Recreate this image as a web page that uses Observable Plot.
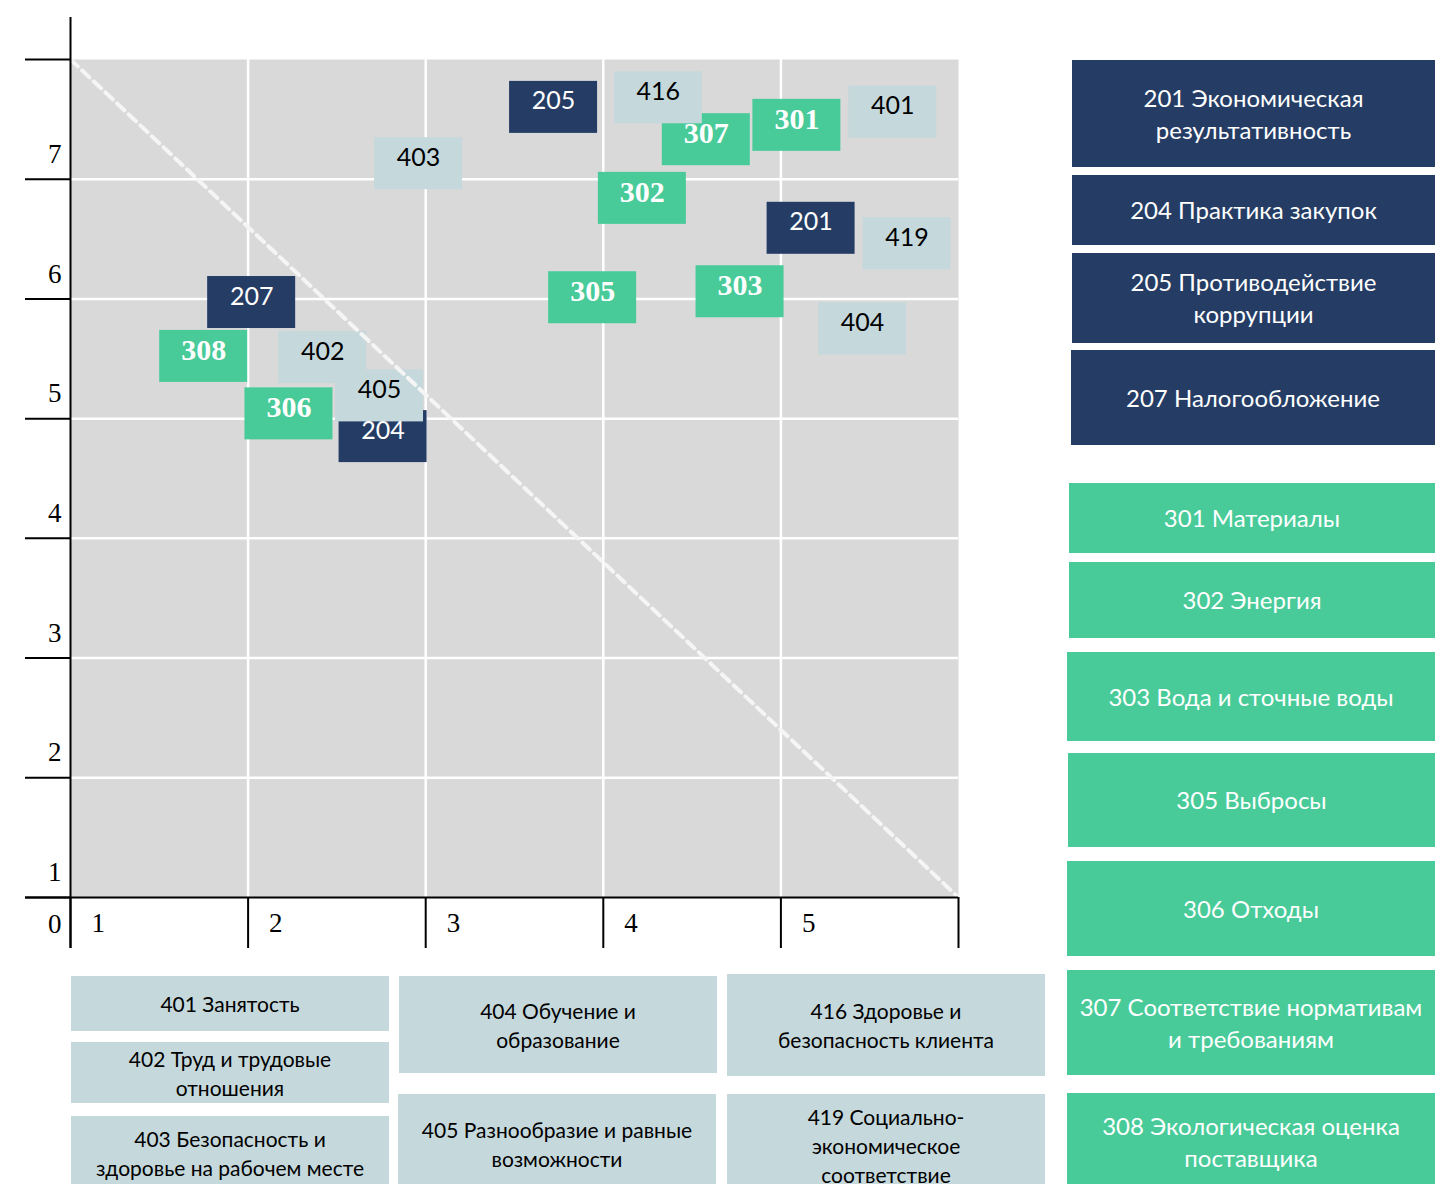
<!DOCTYPE html>
<html>
<head>
<meta charset="utf-8">
<script src="https://cdn.jsdelivr.net/npm/d3@7"></script>
<script src="https://cdn.jsdelivr.net/npm/@observablehq/plot@0.6"></script>
<style>
  html, body { margin: 0; padding: 0; background: #fff; }
  body { width: 1435px; height: 1184px; overflow: hidden; position: relative; }
  #chart { position: absolute; left: 0; top: 0; }
  .lg { position: absolute; display: flex; align-items: center; justify-content: center; text-align: center; box-sizing: border-box; font-family: Lato, "Open Sans", sans-serif; }
  .lg.navy { background: #253d65; color: #fff; font-size: 24px; line-height: 32px; }
  .lg.green { background: #48cb99; color: #fff; font-size: 24px; line-height: 32px; }
  .lg.light { background: #c5d8db; color: #000; font-size: 21px; line-height: 29px; }
</style>
</head>
<body>
<div id="chart"></div>
<script>
// ---- data ----
const codes = ["201","204","205","207","301","302","303","305","306","307","308","401","402","403","404","405","416","419"];
const xVals = [5.17, 2.76, 3.72, 2.02, 5.09, 4.22, 4.77, 3.94, 2.23, 4.58, 1.75, 5.63, 2.42, 2.96, 5.46, 2.74, 4.31, 5.71];
const yVals = [6.59, 4.85, 7.60, 5.97, 7.45, 6.84, 6.06, 6.01, 5.04, 7.33, 5.52, 7.56, 5.51, 7.13, 5.75, 5.19, 7.68, 6.46];

const xTicks = [1, 2, 3, 4, 5, 6];
const xTickLabels = ["1", "2", "3", "4", "5"];
const yTicks = [1, 2, 3, 4, 5, 6, 7, 8];
const yTickLabels = ["1", "2", "3", "4", "5", "6", "7"];
const originLabel = "0";
const diagonal = [[1, 8], [6, 1]];

const navyLabels = [
  ["201 Экономическая", "результативность"],
  ["204 Практика закупок"],
  ["205 Противодействие", "коррупции"],
  ["207 Налогообложение"]
];
const greenLabels = [
  ["301 Материалы"],
  ["302 Энергия"],
  ["303 Вода и сточные воды"],
  ["305 Выбросы"],
  ["306 Отходы"],
  ["307 Соответствие нормативам", "и требованиям"],
  ["308 Экологическая оценка", "поставщика"]
];
const lightLabels = [
  ["401 Занятость"],
  ["402 Труд и трудовые", "отношения"],
  ["403 Безопасность и", "здоровье на рабочем месте"],
  ["404 Обучение и", "образование"],
  ["405 Разнообразие и равные", "возможности"],
  ["416 Здоровье и", "безопасность клиента"],
  ["419 Социально-", "экономическое", "соответствие"]
];

// ---- colors ----
const NAVY = "#253d65", GREEN = "#48cb99", LIGHT = "#c5d8db", BG = "#d9d9d9";

const pts = codes.map((c, i) => ({code: c, x: xVals[i], y: yVals[i], g: c[0]}));
const grp = g => pts.filter(d => d.g === g);

const SERIF = "'Liberation Serif', 'DejaVu Serif', serif";
const SANS = "Lato, 'Open Sans', sans-serif";

function boxes(data, fill) {
  return Plot.rect(data, {x1: "x", x2: "x", y1: "y", y2: "y",
    insetLeft: -44, insetRight: -44, insetTop: -26, insetBottom: -26, fill});
}

const chart = Plot.plot({
  width: 960, height: 950,
  marginLeft: 70, marginRight: 2, marginTop: 59, marginBottom: 53,
  x: {domain: [1, 6]},
  y: {domain: [1, 8]},
  style: {background: "transparent", overflow: "visible"},
  marks: [
    Plot.frame({fill: BG, stroke: "none"}),
    Plot.gridX(xTicks.slice(1, -1), {stroke: "white", strokeOpacity: 1, strokeWidth: 2.5}),
    Plot.gridY(yTicks.slice(1, -1), {stroke: "white", strokeOpacity: 1, strokeWidth: 2.5}),
    boxes(grp("2"), NAVY),
    boxes(grp("3"), GREEN),
    boxes(grp("4"), LIGHT),
    Plot.line(diagonal, {x: d => d[0], y: d => d[1], stroke: "#f5f5f5", strokeOpacity: 1, strokeWidth: 4, strokeDasharray: "10,6"}),
    Plot.text(grp("2"), {x: "x", y: "y", text: "code", fill: "white", fontFamily: SANS, fontSize: 25, dy: -6}),
    Plot.text(grp("3"), {x: "x", y: "y", text: "code", fill: "white", fontFamily: SERIF, fontWeight: "bold", fontSize: 30, dy: -6}),
    Plot.text(grp("4"), {x: "x", y: "y", text: "code", fill: "black", fontFamily: SANS, fontSize: 25, dy: -6}),
    Plot.ruleX([xTicks[0]], {stroke: "black", strokeWidth: 2, insetTop: -42, insetBottom: -51}),
    Plot.ruleY([yTicks[0]], {stroke: "black", strokeWidth: 2, insetLeft: -45}),
    Plot.axisY(yTicks, {tickSize: 45, stroke: "black", strokeWidth: 2, fill: "none"}),
    Plot.axisX(xTicks, {tickSize: 51, stroke: "black", strokeWidth: 2, fill: "none"}),
    Plot.text(yTickLabels, {x: xTicks[0], y: (d, i) => yTicks[i], text: d => d, textAnchor: "end", dx: -9, dy: -25, fontFamily: SERIF, fontSize: 27, fill: "black"}),
    Plot.text([originLabel], {x: xTicks[0], y: yTicks[0], text: d => d, textAnchor: "end", dx: -9, dy: 27, fontFamily: SERIF, fontSize: 27, fill: "black"}),
    Plot.text(xTickLabels, {x: (d, i) => xTicks[i], y: yTicks[0], text: d => d, textAnchor: "start", dx: 21, dy: 26, fontFamily: SERIF, fontSize: 27, fill: "black"})
  ]
});
document.getElementById("chart").appendChild(chart);

// ---- legends (HTML) ----
const navyLayout = [[1072, 60, 363, 107], [1072, 175, 363, 70], [1072, 253, 363, 90], [1071, 350, 364, 95]];
const greenLayout = [[1069, 483, 366, 70], [1069, 562, 366, 76], [1067, 652, 368, 89], [1068, 753, 367, 94], [1067, 861, 368, 95], [1067, 970, 368, 105], [1067, 1093, 368, 98]];
const lightLayout = [[71, 976, 318, 55], [71, 1042, 318, 61], [71, 1116, 318, 74], [399, 976, 318, 97], [398, 1094, 318, 99], [727, 974, 318, 102], [727, 1094, 318, 102]];

function addLegend(labels, layout, cls) {
  labels.forEach((lines, i) => {
    const [l, t, w, h] = layout[i];
    const d = document.createElement("div");
    d.className = "lg " + cls;
    Object.assign(d.style, {left: l + "px", top: t + "px", width: w + "px", height: h + "px"});
    const inner = document.createElement("div");
    lines.forEach((s, j) => {
      if (j) inner.appendChild(document.createElement("br"));
      inner.appendChild(document.createTextNode(s));
    });
    d.appendChild(inner);
    document.body.appendChild(d);
  });
}
addLegend(navyLabels, navyLayout, "navy");
addLegend(greenLabels, greenLayout, "green");
addLegend(lightLabels, lightLayout, "light");
</script>
</body>
</html>
